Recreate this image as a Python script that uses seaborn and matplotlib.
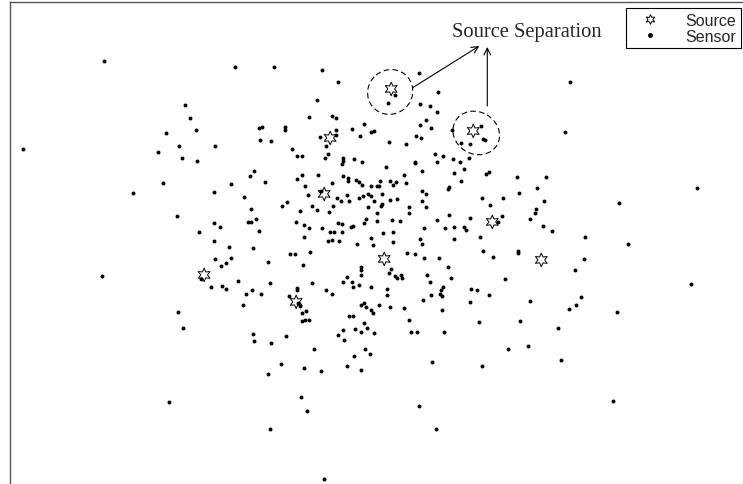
import matplotlib
matplotlib.use("Agg")
import matplotlib.pyplot as plt
from matplotlib.patches import Ellipse
from matplotlib.lines import Line2D
import seaborn as sns
import pandas as pd

# positions (x to the right, y downward)
sensor_points = [
    (104,62),(185,106),(166,134),(179,147),(23,150),(158,153),(182,159),
    (235,68),(274,68),(322,71),(338,83),(317,101),(190,119),(309,118),(332,117),(336,119),
    (196,131),(259,129),(262,128),(285,128),(285,131),(336,131),(352,130),(364,125),(360,137),
    (371,133),(374,132),(320,138),(336,136),(326,147),(215,147),(260,141),(271,142),(292,150),
    (297,157),(302,157),(328,155),(325,159),(343,159),(343,162),(354,160),(362,163),(197,162),
    (419,74),(438,93),(395,96),(388,104),(420,105),(430,107),(437,113),(426,121),(420,126),
    (431,129),(452,131),(481,127),(416,137),(421,139),(389,143),(406,145),(461,144),(470,145),
    (483,140),(485,141),(435,155),(443,157),(453,160),(460,163),(469,159),(415,163),(437,163),
    (570,83),(565,133),
    (163,184),(133,194),(177,217),(102,277),(178,313),
    (342,165),(254,172),(250,177),(302,176),(318,176),(297,180),(343,177),(348,179),(348,182),
    (356,181),(359,183),(362,186),(231,185),(265,183),(305,187),(332,184),(371,187),(214,193),
    (321,192),(308,196),(347,196),(337,199),(341,202),(349,202),(359,199),(363,197),(368,195),
    (371,197),(374,202),(244,198),(287,203),(282,207),(312,207),(317,211),(300,212),(329,213),
    (333,207),(368,208),(251,210),(256,220),(248,223),(251,223),(296,223),(304,226),(309,229),
    (322,229),(338,224),(342,225),(351,228),(353,227),(366,220),(364,224),(214,224),(220,228),
    (199,233),(259,232),(330,233),(334,233),(342,233),(304,238),(328,242),(332,241),(339,242),
    (371,239),(214,242),(357,245),(373,246),(229,248),(253,249),(290,255),(295,255),(310,253),
    (215,260),(231,259),(226,264),(221,267),(268,263),(303,266),(361,268),(361,271),(201,280),
    (361,276),(347,278),(343,283),(352,283),(359,286),(353,288),(371,288),(238,282),(211,288),
    (222,287),(226,290),(270,284),(312,284),(297,289),(297,291),(252,291),(246,295),(261,295),
    (289,297),(326,291),(332,295),(298,304),(300,307),(243,306),(361,306),(364,304),(366,308),
    (371,311),(373,314),(302,314),(306,312),(349,317),(353,317),(302,322),(305,321),(309,321),
    (364,324),
    (386,168),(415,164),(422,172),(454,174),(464,170),(486,175),(489,173),(517,178),(546,178),
    (404,176),(380,182),(390,182),(396,183),(393,186),(406,184),(377,187),(379,187),(461,182),
    (449,188),(448,190),(422,192),(426,195),(519,194),(537,189),(382,195),(390,201),(397,200),
    (422,202),(382,205),(381,207),(482,199),(503,199),(544,202),(490,206),(409,208),(426,208),
    (536,210),(535,214),(409,214),(377,214),(449,216),(470,219),(502,217),(498,223),(530,220),
    (377,222),(392,221),(400,222),(437,221),(424,229),(445,229),(454,228),(464,228),(466,231),
    (543,227),(552,232),(383,234),(393,233),(480,238),(420,240),(454,240),(393,243),(422,245),
    (407,254),(415,255),(483,252),(518,252),(518,254),(493,258),(424,259),(439,259),(448,268),
    (391,270),(389,274),(395,277),(397,279),(401,276),(402,279),(427,276),(451,279),(430,283),
    (505,280),(387,290),(443,288),(441,291),(471,290),(477,291),(440,295),(442,297),(431,296),
    (387,296),(489,296),(423,301),(470,303),(530,302),(379,306),(390,308),(404,309),(442,311),
    (409,321),(479,323),(520,322),
    (697,189),(619,204),(585,238),(628,245),(584,260),(575,271),(691,285),(581,298),(576,306),
    (569,310),(617,313),
    (183,329),(169,403),
    (253,335),(286,337),(254,342),(271,344),(338,336),(343,331),(355,330),(361,333),(367,329),
    (374,334),(344,341),(314,350),(365,350),(370,355),(354,357),(281,365),(268,375),(304,369),
    (321,372),(347,367),(361,371),(301,398),(307,412),(270,430),(324,480),
    (411,333),(417,333),(444,333),(508,350),(528,347),(432,363),(482,367),(419,407),(436,430),
    (558,329),(561,361),(613,402),
]
sensor_x = [p[0] for p in sensor_points]
sensor_y = [p[1] for p in sensor_points]

source_x = [391, 473, 330, 324, 492, 204, 384, 541, 296]
source_y = [90, 132, 139, 195, 223, 276, 260, 261, 303]

legend_labels = ["Source", "Sensor"]
annotation_text = "Source Separation"

sns.set_style("white")
plt.rcParams["font.family"] = ["Liberation Sans", "DejaVu Sans"]

fig = plt.figure(figsize=(7.43, 4.85), dpi=100)
ax = fig.add_axes([10/743, -0.01, 1 - 10/743 + 0.01, 1 - 3/485 + 0.01])

sensors = pd.DataFrame({"x": sensor_x, "y": sensor_y})
sources = pd.DataFrame({"x": source_x, "y": source_y})

sns.scatterplot(data=sensors, x="x", y="y", ax=ax, color="black", s=8,
                marker="o", linewidth=0, zorder=3, legend=False)
sns.scatterplot(data=sources, x="x", y="y", ax=ax, marker=(6, 1, 0), s=95,
                facecolor="none", edgecolor="black", linewidth=0.7, zorder=4,
                legend=False)

ax.set_xlim(10, 743 + 7)
ax.set_ylim(485 + 5, 3)
ax.set_xlabel("")
ax.set_ylabel("")
ax.set_xticks([])
ax.set_yticks([])
for side in ["right", "bottom"]:
    ax.spines[side].set_visible(False)
for side in ["left", "top"]:
    ax.spines[side].set_color("#555555")
    ax.spines[side].set_linewidth(1.0)

# dashed regions around the two separated sources
ax.add_patch(Ellipse((390, 93), 46, 44, angle=-40, fill=False, ls=(0, (5, 3)),
                     lw=0.8, color="black"))
ax.add_patch(Ellipse((476, 134), 48, 42, angle=30, fill=False, ls=(0, (5, 3)),
                     lw=0.8, color="black"))

ax.text(527, 33, annotation_text, ha="center", va="center", fontsize=14.8,
        family=["Liberation Serif", "DejaVu Serif"])
ax.annotate("", xy=(479, 47), xytext=(412, 89),
            arrowprops=dict(arrowstyle="->", color="black", lw=0.8,
                            shrinkA=0, shrinkB=0, mutation_scale=12))
ax.annotate("", xy=(487, 48), xytext=(487, 107),
            arrowprops=dict(arrowstyle="->", color="black", lw=0.8,
                            shrinkA=0, shrinkB=0, mutation_scale=12))

handles = [
    Line2D([], [], marker=(6, 1, 0), ls="none", markersize=7, markerfacecolor="none",
           markeredgecolor="black", markeredgewidth=0.7),
    Line2D([], [], marker="o", ls="none", markersize=2.5, color="black"),
]
leg = ax.legend(handles, legend_labels, loc="upper right",
                bbox_to_anchor=(741/743, 1 - 9/485), bbox_transform=fig.transFigure,
                borderaxespad=0, fancybox=False, framealpha=1, edgecolor="black",
                fontsize=11.5, labelspacing=0.05, handletextpad=1.0, handlelength=2.4,
                borderpad=0.3)
leg.get_frame().set_linewidth(0.8)

fig.savefig("out.png", dpi=100)
